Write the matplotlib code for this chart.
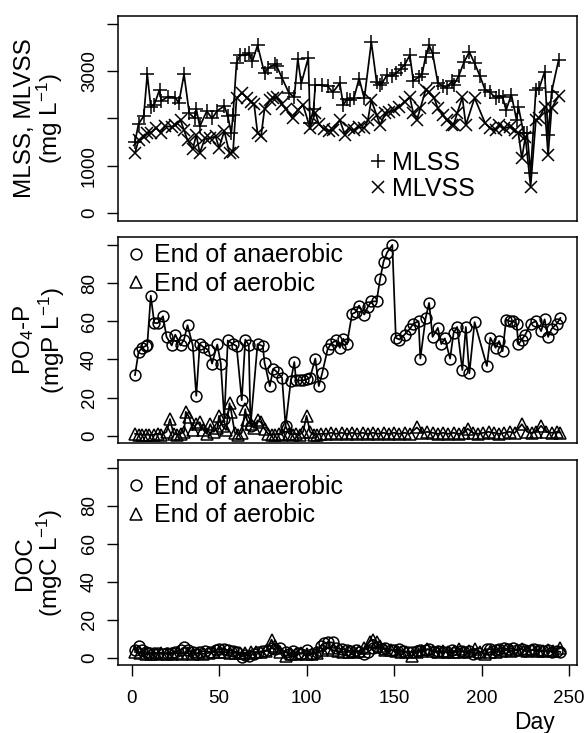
import matplotlib
matplotlib.use("Agg")
import matplotlib.pyplot as plt
from matplotlib.lines import Line2D

plt.rcParams['font.family'] = ['Liberation Sans', 'DejaVu Sans']
plt.rcParams['mathtext.fontset'] = 'custom'
plt.rcParams['mathtext.rm'] = 'Liberation Sans'
plt.rcParams['mathtext.it'] = 'Liberation Sans:italic'
plt.rcParams['mathtext.bf'] = 'Liberation Sans:bold'

# ---------------- data ----------------
mlss_day = [2, 4, 7, 9, 11, 13, 16, 17, 21, 25, 27, 30, 33, 36, 37, 39, 43, 46, 49, 53,
            55, 57, 58, 60, 62, 65, 67, 69, 72, 76, 78, 82, 83, 86, 90, 93, 95, 97, 101, 102,
            104, 105, 109, 112, 115, 119, 121, 123, 125, 127, 130, 133, 137, 140, 142, 143, 146, 149, 151, 154,
            156, 159, 161, 164, 166, 168, 170, 172, 175, 178, 180, 183, 184, 187, 190, 193, 196, 199, 202, 205,
            208, 210, 212, 214, 217, 220, 221, 224, 226, 228, 231, 233, 236, 238, 240, 244]
mlss = [1505, 1880, 2050, 2930, 2250, 2290, 2600, 2370, 2460, 2440, 2320, 2930, 2110, 2000, 2200, 1830, 2150, 2000, 2160, 2260,
        2050, 1690, 2070, 3170, 3330, 3330, 3380, 3200, 3540, 2950, 3060, 3140, 3100, 2850, 2530, 2450, 3250, 2740, 3280, 1900,
        2200, 2700, 2700, 2680, 2550, 2740, 2280, 2400, 2385, 2420, 2840, 2420, 3610, 2770, 2700, 2740, 2910, 2890, 2950, 3050,
        3130, 3330, 2790, 2870, 2930, 3300, 3540, 3370, 2750, 2680, 2650, 2780, 2700, 2900, 3190, 3400, 3160, 2900, 2600, 2550,
        2420, 2480, 2450, 2175, 2500, 1960, 2250, 1690, 1690, 850, 2600, 2650, 2980, 1650, 2560, 3230]

mlvss_day = [2, 4, 7, 9, 11, 14, 17, 19, 23, 25, 28, 30, 32, 35, 37, 39, 42, 45, 48, 50,
             53, 56, 58, 60, 63, 66, 68, 70, 72, 74, 76, 79, 81, 83, 86, 88, 92, 95, 98, 102,
             105, 107, 110, 113, 115, 119, 122, 124, 127, 130, 133, 135, 137, 140, 142, 145, 147, 150, 153, 156,
             159, 161, 163, 165, 168, 170, 173, 175, 178, 180, 183, 184, 186, 189, 191, 196, 202, 205, 208, 210,
             213, 216, 219, 221, 223, 225, 228, 231, 233, 236, 238, 240, 244]
mlvss = [1270, 1540, 1600, 1690, 1700, 1800, 1700, 1840, 1820, 1850, 1960, 1750, 1540, 1350, 1650, 1270, 1580, 1580, 1620, 1380,
         1730, 1260, 1300, 2420, 2540, 2440, 2350, 2310, 1690, 1620, 2200, 2380, 2420, 2450, 2300, 2200, 2000, 2180, 2280, 1800,
         2120, 1880, 1770, 1740, 1760, 1960, 1650, 1790, 1750, 1820, 1790, 1960, 2385, 2070, 1860, 2105, 2140, 2175, 2245, 2350,
         2455, 2105, 1964, 2210, 2596, 2560, 2420, 2210, 2070, 1964, 1860, 1860, 2105, 2442, 1860, 2430, 1900, 1789, 1754, 1859,
         1789, 1824, 1754, 1684, 1158, 1613, 560, 1964, 2000, 2245, 1228, 2210, 2470]

po4_ana_day = [2, 4, 6, 8, 9, 11, 13, 15, 18, 20, 23, 25, 28, 30, 32, 35, 37, 39, 41, 44,
               46, 49, 51, 53, 55, 58, 60, 63, 65, 67, 68, 72, 75, 76, 79, 81, 83, 86, 88, 91,
               93, 94, 96, 98, 100, 102, 105, 107, 109, 112, 114, 117, 119, 121, 123, 126, 128, 130, 133, 135,
               137, 140, 142, 144, 146, 149, 151, 153, 156, 159, 161, 164, 165, 168, 170, 172, 175, 177, 179, 182,
               184, 186, 189, 191, 193, 196, 203, 205, 208, 210, 212, 214, 216, 218, 220, 221, 223, 225, 228, 231,
               234, 236, 238, 240, 243, 245]
po4_ana = [31.8, 43.8, 46, 47, 47.5, 73.4, 59.1, 59, 62.6, 51.8, 47.3, 53, 47.3, 50.4, 57.9, 47.3, 20.9, 48, 46.5, 44.9,
           37.8, 47.8, 37.8, 8.7, 49.9, 48, 47, 18.6, 50.4, 47.5, 5.2, 48, 47, 38.3, 26, 35, 33.5, 30.4, 5.2, 28.7,
           38.6, 29, 29, 29, 29.5, 30.4, 40.4, 26, 33, 45.2, 48.3, 50, 46.1, 50.8, 47.8, 63.8, 64.7, 68.2, 63.5, 67.5,
           70.4, 70.4, 82.1, 91.3, 96, 100, 51.3, 50.4, 53, 56, 58.7, 60, 40.4, 61.5, 69.6, 51.8, 56.5, 48, 51, 40.4,
           53.9, 57, 34.4, 57, 32.7, 59.5, 36.5, 51.3, 46.1, 49.6, 44.3, 60.9, 60, 60, 58.7, 47.8, 50.4, 53, 58.7, 60,
           54.8, 61, 51.8, 56, 58.7, 61.7]

po4_aer_day = [2, 4, 6, 8, 10, 13, 15, 17, 20, 22, 24, 26, 28, 30, 31, 33, 35, 37, 39, 41,
               43, 45, 47, 49, 50, 52, 54, 56, 57, 59, 61, 63, 65, 66, 68, 70, 72, 74, 76, 78,
               80, 82, 84, 86, 88, 90, 92, 94, 96, 98, 100, 102, 104, 106, 108, 111, 114, 117, 120, 123,
               126, 129, 132, 135, 138, 141, 144, 147, 150, 153, 156, 159, 163, 166, 169, 172, 175, 178, 181, 184,
               187, 190, 192, 195, 198, 201, 204, 207, 210, 213, 216, 219, 223, 226, 229, 231, 234, 237, 240, 243, 245]
po4_aer = [1, 0.5, 0.5, 0.5, 0.5, 0.5, 1, 0.5, 2, 8.7, 1, 0.5, 1, 2, 12.5, 9.6, 3, 6, 7, 3,
           1, 6, 2, 4, 10.4, 5, 3, 17, 12.5, 1.5, 0.5, 1.5, 13.9, 8, 6, 4, 8, 7, 3.5, 1,
           0.5, 0.5, 1, 0.5, 5, 1, 0.5, 1, 0.5, 2, 10.4, 2, 0.5, 0.5, 1, 1, 1.5, 1, 1.5, 1,
           1.5, 1, 1.5, 1, 1.5, 1, 1.5, 1, 1.5, 1, 1.5, 1, 4.3, 1.5, 2, 1.5, 1, 1.5, 1, 1.5,
           1, 1.5, 3.7, 1.5, 1, 1.5, 2, 1.5, 1, 1.5, 2, 1.5, 6, 2, 1.5, 2, 5.2, 2, 1.5, 2, 1.5]

doc_ana_day = [2, 4, 6, 8, 10, 13, 15, 18, 20, 23, 25, 28, 30, 32, 35, 37, 39, 42, 45, 48,
               50, 53, 55, 58, 60, 63, 65, 67, 70, 72, 75, 78, 80, 82, 85, 88, 90, 92, 95, 97,
               100, 103, 106, 108, 110, 112, 115, 117, 120, 123, 125, 128, 130, 133, 135, 138, 140, 143, 145, 148,
               150, 153, 155, 158, 160, 163, 165, 168, 170, 173, 175, 178, 180, 183, 185, 188, 190, 193, 195, 198,
               203, 205, 208, 210, 213, 215, 218, 220, 223, 225, 228, 230, 233, 235, 238, 240, 243, 245]
doc_ana = [4, 6.3, 4, 3, 2.5, 2.5, 2.5, 2, 2.5, 2.5, 3, 4, 5.5, 4, 3, 2, 3, 3.5, 3, 4,
           4.5, 4.5, 4, 3.5, 3, 0.5, 1.5, 1, 2, 3, 3.5, 4, 5, 4.5, 5, 3, 2, 3.5, 2.5, 2,
           4, 2, 3, 6, 7.5, 8, 8, 5, 4.5, 4, 3.5, 4, 3, 2, 3, 5, 5.5, 4.5, 5, 4,
           4, 4.5, 3.5, 3, 3, 3.5, 4, 4, 4.5, 3, 3.5, 3, 3, 4, 3, 3.5, 3, 3.5, 2, 2.5,
           4.5, 4.5, 4, 4.5, 5, 4.5, 5, 4, 4.5, 3.5, 4, 4.5, 4, 3.5, 4, 3, 3.5, 3]

doc_aer_day = [2, 5, 8, 11, 14, 17, 20, 23, 26, 29, 32, 35, 38, 41, 44, 47, 50, 53, 56, 59,
               62, 65, 68, 71, 74, 77, 80, 82, 85, 88, 91, 94, 97, 100, 103, 106, 109, 112, 115, 118,
               121, 124, 127, 130, 133, 136, 138, 140, 142, 145, 148, 151, 154, 157, 160, 163, 166, 169, 172, 175,
               178, 181, 184, 187, 190, 193, 196, 199, 202, 205, 208, 211, 214, 217, 220, 223, 226, 229, 232, 235,
               238, 241, 245]
doc_aer = [3, 2.5, 2, 2, 2, 2.5, 2, 2, 2.5, 2, 2.5, 2, 2.5, 2, 2.5, 3, 3, 3, 2.5, 2.5,
           2.5, 2.5, 3, 3, 3, 3.5, 9.5, 6, 3, 1, 2, 2, 2.5, 2, 2, 2.5, 4, 5, 4, 3.5,
           3, 3, 3, 3.5, 5, 8.5, 9.5, 8.5, 6, 4, 4, 3.5, 3, 3, 1, 3, 3.5, 4.5, 3.5, 3,
           3.5, 3, 3, 4.5, 3, 3.5, 4.5, 3, 2, 3, 3, 3.5, 4, 3.5, 4, 4.5, 3.5, 4, 3.5, 3.5,
           4, 3.5, 5]

mlss_ticks = [0, 1000, 2000, 3000, 4000]
mlss_ticklabels = ['0', '1000', '', '3000', '']
conc_ticks = [0, 20, 40, 60, 80, 100]
conc_ticklabels = ['0', '20', '40', '60', '80', '']
day_ticks = [0, 50, 100, 150, 200, 250]

# ---------------- figure ----------------
W, H = 586, 733
fig = plt.figure(figsize=(W / 100, H / 100), dpi=100)


def frac_box(left, top, right, bottom):
    return [left / W, 1 - bottom / H, (right - left) / W, (bottom - top) / H]


ax1 = fig.add_axes(frac_box(117.5, 16, 577, 220.7))
ax2 = fig.add_axes(frac_box(117.5, 237.3, 577, 443.3))
ax3 = fig.add_axes(frac_box(117.5, 460, 577, 665.3))

lw = 1.25
mew = 1.1
TICKFS = 13.5
MS_O, MS_T, MS_P, MS_X = 7.8, 8.2, 9.5, 8.0
for ax in (ax1, ax2, ax3):
    ax.set_xlim(-8, 254.5)
    for s in ax.spines.values():
        s.set_linewidth(1.1)
    ax.tick_params(axis='y', direction='out', length=8, width=1.0, labelsize=TICKFS,
                   labelrotation=90, pad=6)

# top panel
ax1.plot(mlss_day, mlss, color='black', lw=lw, marker='+', ms=MS_P, mew=mew)
ax1.plot(mlvss_day, mlvss, color='black', lw=lw, marker='x', ms=MS_X, mew=mew)
ax1.set_ylim(-160, 4160)
ax1.set_yticks(mlss_ticks)
ax1.set_yticklabels(mlss_ticklabels, va='center')
ax1.set_xticks([])

# middle
ax2.plot(po4_ana_day, po4_ana, color='black', lw=lw, marker='o', ms=MS_O, mew=mew, mfc='none')
ax2.plot(po4_aer_day, po4_aer, color='black', lw=lw, marker='^', ms=MS_T, mew=mew, mfc='none')
ax2.set_ylim(-4, 104)
ax2.set_yticks(conc_ticks)
ax2.set_yticklabels(conc_ticklabels, va='center')
ax2.set_xticks([])

# bottom
ax3.plot(doc_ana_day, doc_ana, color='black', lw=lw, marker='o', ms=MS_O, mew=mew, mfc='none')
ax3.plot(doc_aer_day, doc_aer, color='black', lw=lw, marker='^', ms=MS_T, mew=mew, mfc='none')
ax3.set_ylim(-4, 104)
ax3.set_yticks(conc_ticks)
ax3.set_yticklabels(conc_ticklabels, va='center')
ax3.set_xticks(day_ticks)
ax3.set_xticklabels([str(d) for d in day_ticks])
ax3.tick_params(axis='x', direction='out', length=8, width=1.0, labelsize=TICKFS, pad=10)

# legends
LEGFS = 18
h_plus = Line2D([], [], color='black', ls='none', marker='+', ms=MS_P, mew=mew)
h_x = Line2D([], [], color='black', ls='none', marker='x', ms=MS_X, mew=mew)
ax1.legend([h_plus, h_x], ['MLSS', 'MLVSS'], loc='upper left',
           bbox_to_anchor=((372 - 117.5) / 459.5, (220.7 - 150.5) / 204.7),
           frameon=False, fontsize=LEGFS, handlelength=0.5, handletextpad=0.3,
           labelspacing=0.08, borderpad=0, borderaxespad=0)

for ax, topy, bot, hgt in ((ax2, 243.5, 443.3, 206), (ax3, 475, 665.3, 205.3)):
    h_o = Line2D([], [], color='black', ls='none', marker='o', ms=MS_O, mew=mew, mfc='none')
    h_t = Line2D([], [], color='black', ls='none', marker='^', ms=MS_T, mew=mew, mfc='none')
    ax.legend([h_o, h_t], ['End of anaerobic', 'End of aerobic'], loc='upper left',
              bbox_to_anchor=((128 - 117.5) / 459.5, (bot - topy) / hgt),
              frameon=False, fontsize=LEGFS, handlelength=0.6, handletextpad=0.45,
              labelspacing=0.18, borderpad=0, borderaxespad=0)

# y labels (two lines each)
LABFS = 17.5
def ylab(line1, line2, top, bottom, x1=25, x2=50):
    yc = 1 - ((top + bottom) / 2) / H
    fig.text(x1 / W, yc, line1, rotation=90, ha='center', va='center', fontsize=LABFS)
    fig.text(x2 / W, yc, line2, rotation=90, ha='center', va='center', fontsize=LABFS)

ylab('MLSS, MLVSS', r'(mg L$^{-1}$)', 16, 220.7)
ylab(r'PO$_4$-P', r'(mgP L$^{-1}$)', 237.3, 443.3, x1=24, x2=52)
ylab('DOC', r'(mgC L$^{-1}$)', 460, 665.3)

fig.text(534 / W, 1 - 722 / H, 'Day', ha='center', va='center', fontsize=16.5)

fig.savefig('out.png', dpi=100)
